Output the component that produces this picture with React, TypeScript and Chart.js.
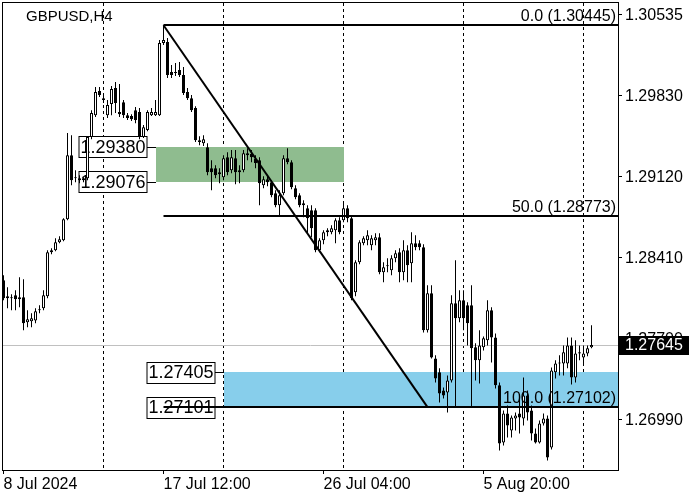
import { useEffect, useRef } from "react"
import { Chart, registerables } from "chart.js"

Chart.register(...registerables)

const FONT = '"Liberation Sans", Arial, sans-serif'

const symbol = "GBPUSD,H4"

// H4 candles, one per bar index
const opens = [
  1.28212, 1.28054, 1.28063, 1.28081, 1.28045, 1.28063, 1.27844, 1.27853, 1.27861, 1.27949,
  1.27967, 1.28072, 1.28457, 1.28475, 1.28545, 1.28563, 1.28747, 1.29308, 1.29115, 1.29106,
  1.29106, 1.29106, 1.29466, 1.29658, 1.29869, 1.29807, 1.29658, 1.29755, 1.29895, 1.29685,
  1.29772, 1.29658, 1.2965, 1.29702, 1.29685, 1.29466, 1.29527, 1.29658, 1.29658, 1.29658,
  1.3029, 1.30298, 1.30035, 1.30027, 1.30053, 1.30009, 1.2986, 1.29807, 1.2972, 1.29439,
  1.29413, 1.29378, 1.29194, 1.29194, 1.29159, 1.29115, 1.2929, 1.29176, 1.29281, 1.29176,
  1.29176, 1.29325, 1.29317, 1.29273, 1.29264, 1.29045, 1.29097, 1.29071, 1.28975, 1.2887,
  1.28975, 1.29281, 1.29246, 1.29019, 1.28957, 1.28887, 1.28843, 1.28826, 1.28826, 1.28475,
  1.28563, 1.28633, 1.28633, 1.2865, 1.28738, 1.28738, 1.28843, 1.28756, 1.28107, 1.2837,
  1.28536, 1.28563, 1.28519, 1.28563, 1.28589, 1.28282, 1.28335, 1.283, 1.28405, 1.28457,
  1.28282, 1.28475, 1.28361, 1.28536, 1.28536, 1.28501, 1.27774, 1.28098, 1.27528, 1.27406,
  1.27248, 1.2723, 1.27335, 1.2801, 1.27879, 1.28037, 1.27993, 1.27993, 1.27625, 1.27511,
  1.27625, 1.27686, 1.27949, 1.27712, 1.27292, 1.26792, 1.27046, 1.26897, 1.27002, 1.27046,
  1.27002, 1.27204, 1.27072, 1.26871, 1.26792, 1.26958, 1.27002, 1.26748, 1.27406, 1.27484,
  1.27484, 1.27484, 1.27642, 1.27362, 1.27572, 1.27537, 1.27572, 1.27625,
]
const highs = [
  1.28256, 1.28151, 1.28089, 1.28124, 1.28238, 1.28221, 1.27949, 1.27923, 1.27967, 1.27993,
  1.28124, 1.28475, 1.28493, 1.2858, 1.28598, 1.28756, 1.29501, 1.29483, 1.29176, 1.29132,
  1.29115, 1.29474, 1.29702, 1.29904, 1.29904, 1.29834, 1.2979, 1.29913, 1.29948, 1.2993,
  1.2979, 1.29676, 1.29667, 1.29729, 1.2972, 1.29571, 1.29702, 1.2972, 1.2979, 1.30316,
  1.30445, 1.30333, 1.30097, 1.30114, 1.30123, 1.30079, 1.29895, 1.29834, 1.29737, 1.29474,
  1.29483, 1.29413, 1.29264, 1.2922, 1.29194, 1.29308, 1.29334, 1.29352, 1.29352, 1.2922,
  1.29352, 1.29369, 1.29352, 1.29308, 1.2929, 1.29124, 1.29132, 1.29089, 1.29001, 1.29001,
  1.29308, 1.29369, 1.29264, 1.29045, 1.28975, 1.28913, 1.2887, 1.2887, 1.28843, 1.2858,
  1.2865, 1.28668, 1.28694, 1.28756, 1.28764, 1.28887, 1.2887, 1.28773, 1.28387, 1.28563,
  1.28598, 1.2865, 1.28607, 1.28624, 1.28624, 1.2837, 1.28405, 1.28431, 1.28475, 1.28493,
  1.28563, 1.28519, 1.28633, 1.28607, 1.28563, 1.28528, 1.28168, 1.28168, 1.27555, 1.27441,
  1.27274, 1.27379, 1.28081, 1.28387, 1.28124, 1.28124, 1.28019, 1.28168, 1.2766, 1.27774,
  1.27721, 1.28037, 1.27975, 1.27747, 1.27318, 1.27072, 1.27116, 1.27029, 1.27055, 1.27186,
  1.27362, 1.27248, 1.27116, 1.26915, 1.26985, 1.27046, 1.27029, 1.27449, 1.27511, 1.27555,
  1.27642, 1.27712, 1.27712, 1.27686, 1.27642, 1.27642, 1.27642, 1.27818,
]
const lows = [
  1.28037, 1.27967, 1.27949, 1.27949, 1.27975, 1.27774, 1.278, 1.278, 1.27835, 1.27923,
  1.27949, 1.28054, 1.2844, 1.28466, 1.28536, 1.28554, 1.28738, 1.29045, 1.29071, 1.29062,
  1.29071, 1.29089, 1.29448, 1.29641, 1.29816, 1.29764, 1.29632, 1.29658, 1.29676, 1.29641,
  1.29632, 1.29615, 1.29606, 1.29588, 1.29448, 1.29457, 1.29518, 1.2965, 1.2965, 1.2965,
  1.30272, 1.29983, 1.29983, 1.3, 1.29992, 1.29834, 1.2979, 1.29685, 1.29422, 1.29395,
  1.29387, 1.29132, 1.29001, 1.29106, 1.29062, 1.29089, 1.29132, 1.2915, 1.29054, 1.29062,
  1.29159, 1.29264, 1.29246, 1.29194, 1.2887, 1.29019, 1.29036, 1.2894, 1.28852, 1.28782,
  1.28957, 1.29229, 1.2901, 1.28922, 1.28852, 1.28764, 1.28624, 1.28589, 1.28457, 1.28457,
  1.28528, 1.28598, 1.28615, 1.28536, 1.28615, 1.2872, 1.2872, 1.28037, 1.28072, 1.28352,
  1.28519, 1.28519, 1.28475, 1.28519, 1.28265, 1.28194, 1.28282, 1.28256, 1.2837, 1.28194,
  1.28212, 1.28194, 1.28194, 1.28475, 1.28475, 1.27756, 1.27756, 1.27528, 1.27318, 1.27143,
  1.27178, 1.27055, 1.27318, 1.27099, 1.27844, 1.27774, 1.27642, 1.27099, 1.27335, 1.27309,
  1.27598, 1.27642, 1.27493, 1.27265, 1.26722, 1.26766, 1.26836, 1.26836, 1.26897, 1.26871,
  1.26941, 1.26985, 1.2681, 1.26783, 1.26783, 1.26941, 1.26634, 1.26731, 1.27353, 1.27379,
  1.27379, 1.27441, 1.273, 1.27318, 1.27511, 1.27467, 1.27546, 1.27616,
]
const closes = [
  1.28054, 1.28072, 1.28054, 1.28045, 1.28063, 1.27835, 1.2787, 1.27879, 1.2794, 1.27958,
  1.28081, 1.28457, 1.28475, 1.28545, 1.28571, 1.28747, 1.29308, 1.29089, 1.29106, 1.29089,
  1.29089, 1.29466, 1.29676, 1.2986, 1.29834, 1.2979, 1.29746, 1.29886, 1.29764, 1.29667,
  1.29658, 1.29632, 1.29623, 1.29615, 1.29466, 1.29553, 1.29685, 1.29685, 1.29685, 1.3029,
  1.30316, 1.30009, 1.30009, 1.30035, 1.30009, 1.29851, 1.29807, 1.29702, 1.29439, 1.29422,
  1.29448, 1.29159, 1.29159, 1.29132, 1.29141, 1.29281, 1.29159, 1.2929, 1.29159, 1.29159,
  1.29325, 1.29308, 1.2929, 1.29238, 1.29062, 1.29097, 1.29071, 1.28957, 1.2887, 1.28957,
  1.29281, 1.29246, 1.29027, 1.2894, 1.2887, 1.2887, 1.28756, 1.28668, 1.28475, 1.28563,
  1.28633, 1.2865, 1.28668, 1.28738, 1.28633, 1.28843, 1.28756, 1.28054, 1.2837, 1.28545,
  1.2858, 1.28607, 1.2858, 1.28589, 1.28282, 1.28326, 1.28344, 1.28405, 1.28449, 1.28282,
  1.28475, 1.28344, 1.28536, 1.28501, 1.28501, 1.27774, 1.28098, 1.27537, 1.27353, 1.27221,
  1.27204, 1.27335, 1.2801, 1.27879, 1.28037, 1.27879, 1.27835, 1.27616, 1.27511, 1.27642,
  1.27704, 1.27949, 1.27712, 1.27292, 1.26783, 1.27046, 1.26941, 1.27011, 1.27029, 1.27011,
  1.27204, 1.27055, 1.26871, 1.26792, 1.26958, 1.27002, 1.2666, 1.27423, 1.27484, 1.27493,
  1.27581, 1.27642, 1.27362, 1.27572, 1.27581, 1.27572, 1.27616, 1.27645,
]

const xTickBars = [0, 40, 80, 120]
const xTickLabels = ["8 Jul 2024", "17 Jul 12:00", "26 Jul 04:00", "5 Aug 20:00"]
const gridBars = [25, 55, 85, 115, 145]
const yTicks = [1.30535, 1.2983, 1.2912, 1.2841, 1.277, 1.2699]

// fibo retracement drawn from the top to the low
const fibStartBar = 40
const fibEndBar = 106
const fibLevels = ["0.0", "50.0", "100.0"]
const fibPrices = [1.30445, 1.28773, 1.27102]

// supply / demand zones
const greenZoneBars = [38, 85]
const greenZonePrices = [1.2938, 1.29076]
const blueZoneStartBar = 55
const blueZonePrices = [1.27405, 1.27101]

const lastPrice = 1.27645

function priceBox(ctx: CanvasRenderingContext2D, right: number, cy: number, zoneLeft: number, text: string) {
  const w = 68
  const h = 21
  const top = Math.round(cy - h / 2) + 0.5
  ctx.fillStyle = "#ffffff"
  ctx.fillRect(right - w, top, w, h)
  ctx.strokeStyle = "#000000"
  ctx.lineWidth = 1
  ctx.strokeRect(right - w, top, w, h)
  ctx.beginPath()
  ctx.moveTo(right, Math.round(cy) + 0.5)
  ctx.lineTo(zoneLeft, Math.round(cy) + 0.5)
  ctx.stroke()
  ctx.fillStyle = "#000000"
  ctx.font = `18px ${FONT}`
  ctx.textAlign = "center"
  ctx.textBaseline = "middle"
  ctx.fillText(text, right - w / 2, cy + 1)
}

const overlay = {
  id: "overlay",
  beforeDatasetsDraw(chart: any) {
    const { ctx, chartArea: a, scales } = chart
    const x = scales.x
    const y = scales.y
    ctx.save()

    // dashed vertical grid
    ctx.strokeStyle = "#000000"
    ctx.lineWidth = 1
    ctx.setLineDash([3, 3])
    gridBars.forEach((b) => {
      const gx = x.getPixelForValue(b)
      ctx.beginPath()
      ctx.moveTo(gx, a.top)
      ctx.lineTo(gx, a.bottom)
      ctx.stroke()
    })
    ctx.setLineDash([])

    // bid line
    const ly = Math.round(y.getPixelForValue(lastPrice)) + 0.5
    ctx.strokeStyle = "#c0c0c0"
    ctx.beginPath()
    ctx.moveTo(a.left, ly)
    ctx.lineTo(a.right, ly)
    ctx.stroke()

    // zones
    const gx0 = Math.round(x.getPixelForValue(greenZoneBars[0]))
    const gx1 = Math.round(x.getPixelForValue(greenZoneBars[1]))
    const gy0 = Math.round(y.getPixelForValue(greenZonePrices[0]))
    const gy1 = Math.round(y.getPixelForValue(greenZonePrices[1]))
    ctx.fillStyle = "#8fbc8f"
    ctx.fillRect(gx0, gy0, gx1 - gx0, gy1 - gy0)

    const bx0 = Math.round(x.getPixelForValue(blueZoneStartBar))
    const by0 = Math.round(y.getPixelForValue(blueZonePrices[0]))
    const by1 = Math.round(y.getPixelForValue(blueZonePrices[1]))
    ctx.fillStyle = "#87ceeb"
    ctx.fillRect(bx0, by0, a.right - bx0, by1 - by0)

    // zone price labels
    greenZonePrices.forEach((p) => {
      priceBox(ctx, gx0 - 9, y.getPixelForValue(p), gx0, p.toFixed(5))
    })
    blueZonePrices.forEach((p) => {
      priceBox(ctx, bx0 - 9, y.getPixelForValue(p), bx0, p.toFixed(5))
    })
    ctx.restore()
  },
  afterDatasetsDraw(chart: any) {
    const { ctx, chartArea: a, scales } = chart
    const x = scales.x
    const y = scales.y
    ctx.save()
    ctx.strokeStyle = "#000000"
    ctx.lineWidth = 2
    const fx = x.getPixelForValue(fibStartBar)
    fibPrices.forEach((p, i) => {
      const fy = Math.round(y.getPixelForValue(p))
      ctx.beginPath()
      ctx.moveTo(fx, fy)
      ctx.lineTo(a.right, fy)
      ctx.stroke()
      ctx.fillStyle = "#000000"
      ctx.font = `16px ${FONT}`
      ctx.textAlign = "right"
      ctx.textBaseline = "alphabetic"
      ctx.fillText(`${fibLevels[i]} (${p.toFixed(5)})`, a.right - 2, fy - 4)
    })
    // trend line of the fibo
    ctx.beginPath()
    ctx.moveTo(fx, y.getPixelForValue(fibPrices[0]))
    ctx.lineTo(x.getPixelForValue(fibEndBar), y.getPixelForValue(fibPrices[2]))
    ctx.stroke()

    // frame
    ctx.lineWidth = 1
    ctx.strokeRect(a.left - 0.5, a.top - 0.5, a.right - a.left + 1, a.bottom - a.top + 1)
    ctx.restore()
  },
  afterDraw(chart: any) {
    const { ctx, chartArea: a, scales } = chart
    const y = scales.y
    ctx.save()

    // price scale labels
    ctx.fillStyle = "#000000"
    ctx.font = `16px ${FONT}`
    ctx.textAlign = "left"
    ctx.textBaseline = "middle"
    yTicks.forEach((v) => {
      ctx.fillText(v.toFixed(5), a.right + 7, y.getPixelForValue(v) + 1)
    })

    // bid label
    const ly = Math.round(y.getPixelForValue(lastPrice))
    ctx.fillStyle = "#000000"
    ctx.fillRect(a.right + 1, ly - 9, 70, 19)
    ctx.fillStyle = "#ffffff"
    ctx.fillText(lastPrice.toFixed(5), a.right + 7, ly + 1)

    ctx.fillStyle = "#000000"
    ctx.font = `15px ${FONT}`
    ctx.textBaseline = "alphabetic"
    ctx.fillText(symbol, 26, 21)
    ctx.restore()
  },
}

function CandleChart() {
  const chartRef = useRef<HTMLCanvasElement>(null)
  const chartInstance = useRef<Chart | null>(null)

  useEffect(() => {
    if (!chartRef.current) return
    if (chartInstance.current) {
      chartInstance.current.destroy()
    }

    const wicks = opens.map((_, i) => ({ x: i, y: [lows[i], highs[i]] }))
    const bodies = opens.map((o, i) => ({ x: i, y: [o, closes[i]] }))
    const bodyColors = opens.map((o, i) => (closes[i] >= o ? "#ffffff" : "#000000"))

    const ctx = chartRef.current.getContext("2d")
    if (ctx) {
      chartInstance.current = new Chart(ctx, {
        type: "bar",
        data: {
          datasets: [
            {
              data: wicks as any,
              backgroundColor: "#000000",
              borderWidth: 0,
              barThickness: 1,
              grouped: false,
              inflateAmount: 0,
              order: 2,
            },
            {
              data: bodies as any,
              backgroundColor: bodyColors,
              borderColor: "#000000",
              borderWidth: 1,
              borderSkipped: false,
              barThickness: 3,
              grouped: false,
              inflateAmount: 0,
              order: 1,
            },
          ],
        },
        options: {
          animation: false,
          responsive: true,
          maintainAspectRatio: false,
          layout: { padding: { left: 3, top: 3, right: 0, bottom: 0 } },
          font: { family: FONT },
          plugins: {
            legend: { display: false },
            tooltip: { enabled: false },
          },
          scales: {
            x: {
              type: "linear",
              bounds: "data",
              min: -0.125,
              max: 153.625,
              offset: false,
              border: { display: false },
              grid: {
                offset: false,
                drawOnChartArea: false,
                drawTicks: true,
                tickLength: 4,
                color: "#000000",
              },
              afterBuildTicks: (scale: any) => {
                scale.ticks = xTickBars.map((v) => ({ value: v }))
              },
              afterFit: (scale: any) => {
                scale.height = 30
              },
              ticks: {
                autoSkip: false,
                maxRotation: 0,
                align: "start",
                padding: 1,
                color: "#000000",
                font: { family: FONT, size: 16 },
                callback: (_v: any, i: number) => xTickLabels[i],
              },
            },
            y: {
              type: "linear",
              position: "right",
              bounds: "data",
              min: 1.26551,
              max: 1.3064,
              border: { display: false },
              grid: {
                drawOnChartArea: false,
                tickLength: 4,
                color: "#000000",
              },
              afterBuildTicks: (scale: any) => {
                scale.ticks = yTicks.map((v) => ({ value: v }))
              },
              afterFit: (scale: any) => {
                scale.width = 82
              },
              ticks: { display: false },
            },
          },
        } as any,
        plugins: [overlay],
      })
    }

    return () => {
      if (chartInstance.current) {
        chartInstance.current.destroy()
        chartInstance.current = null
      }
    }
  }, [])

  return <canvas ref={chartRef} />
}

export default function App() {
  return (
    <div style={{ position: "fixed", left: 0, top: 0, width: 700, height: 500, background: "#ffffff" }}>
      <CandleChart />
    </div>
  )
}
